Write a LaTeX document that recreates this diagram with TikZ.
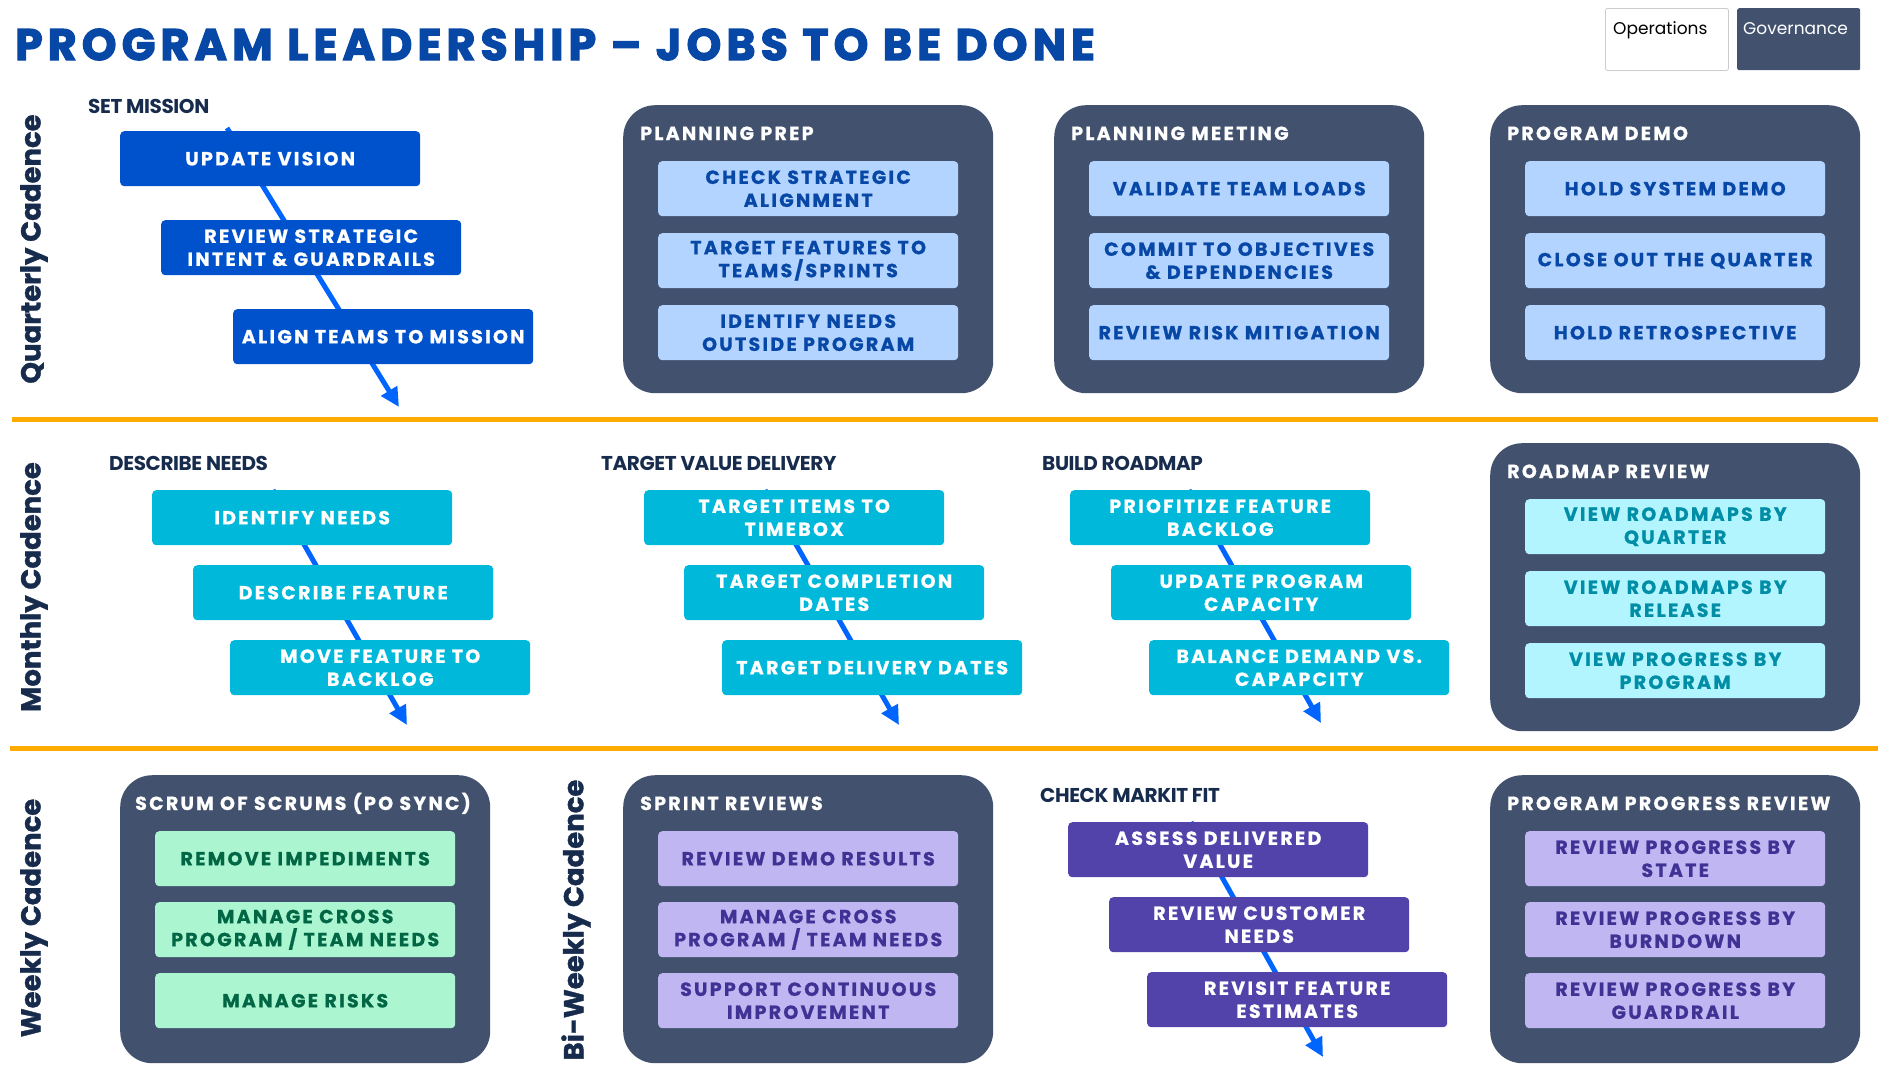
\documentclass[tikz,border=0pt]{standalone}
\usepackage{fontspec}
\setmainfont{Poppins}
\newfontfamily\jobff{Poppins}[LetterSpace=12, FakeBold=0.8]
\newfontfamily\ctff{Poppins}[LetterSpace=12, FakeBold=0.8]
\newfontfamily\lblff{Poppins}[LetterSpace=-2]
\newfontfamily\titleff{Poppins}[LetterSpace=12, FakeBold=3]
\newfontfamily\cadff{Poppins}[FakeBold=1.2]
\usetikzlibrary{arrows.meta,calc,backgrounds}
\definecolor{slate}{HTML}{42526E}
\definecolor{navy}{HTML}{172B4D}
\definecolor{titleblue}{HTML}{0747A6}
\definecolor{qdark}{HTML}{0052CC}
\definecolor{qlight}{HTML}{B3D4FF}
\definecolor{qtext}{HTML}{0747A6}
\definecolor{tdark}{HTML}{00B8D9}
\definecolor{tlight}{HTML}{B3F5FF}
\definecolor{ttext}{HTML}{008DA6}
\definecolor{glight}{HTML}{ABF5D1}
\definecolor{gtext}{HTML}{006644}
\definecolor{plight}{HTML}{C0B6F2}
\definecolor{ptext}{HTML}{403294}
\definecolor{pdark}{HTML}{5243AA}
\definecolor{flowblue}{HTML}{0065FF}
\definecolor{sep}{HTML}{FFAB00}
\newcommand{\jobfont}{\jobff\bfseries\fontsize{19}{23}\selectfont}
\newcommand{\conttitlefont}{\ctff\bfseries\fontsize{19}{21}\selectfont}
\newcommand{\lblfont}{\lblff\bfseries\fontsize{20}{22}\selectfont}
\newcommand{\cadfont}{\cadff\bfseries\fontsize{27.5}{30}\selectfont}
\newcommand{\titlefont}{\titleff\bfseries\fontsize{44}{48}\selectfont}
\tikzset{
  jobbox/.style={rectangle, rounded corners=4pt, minimum width=300pt, minimum height=55pt,
    text width=298pt, align=center, inner sep=0pt, anchor=north west, font=\jobfont},
  qop/.style={jobbox, fill=qdark, text=white},
  qgov/.style={jobbox, fill=qlight, text=qtext},
  mop/.style={jobbox, fill=tdark, text=white},
  mgov/.style={jobbox, fill=tlight, text=ttext},
  wgov/.style={jobbox, fill=glight, text=gtext},
  bgov/.style={jobbox, fill=plight, text=ptext},
  bop/.style={jobbox, fill=pdark, text=white},
  cont/.style={rectangle, rounded corners=32pt, fill=slate, minimum width=370pt,
    minimum height=288pt, anchor=north west, inner sep=0pt},
  conttitle/.style={anchor=base west, font=\conttitlefont, text=white, inner sep=0pt},
  grouplbl/.style={anchor=base west, font=\lblfont, text=navy, inner sep=0pt},
  cadence/.style={rotate=90, font=\cadfont, text=navy, inner sep=0pt},
  flow/.style={draw=flowblue, line width=5pt, -{Triangle[length=19pt,width=18pt]}},
  seprule/.style={draw=sep, line width=5pt},
  legendbox/.style={rectangle, rounded corners=2pt, minimum width=123pt, minimum height=62pt,
    anchor=north west, inner sep=0pt},
  legendtxt/.style={anchor=base west, font=\fontsize{17}{20}\selectfont, inner sep=0pt}
}
\begin{document}
\begin{tikzpicture}[x=1pt,y=-1pt]
\useasboundingbox (0,0) rectangle (1878,1066);

% title and legend
\node[anchor=base west, font=\titlefont, text=titleblue, inner sep=0pt] (title) at (15,60) {PROGRAM LEADERSHIP – JOBS TO BE DONE};
\node[legendbox, fill=white, draw=black!20, line width=0.8pt] (ops) at (1605,8) {};
\node[legendtxt, text=black] (opst) at ($(ops.north west)+(8,26)$) {Operations};
\node[legendbox, fill=slate] (gov) at (1737,8) {};
\node[legendtxt, text=white] (govt) at ($(gov.north west)+(6,26)$) {Governance};

% cadence labels
\node[cadence] (qcad) at (34,249) {Quarterly Cadence};
\node[cadence] (mcad) at (34,587) {Monthly Cadence};
\node[cadence] (wcad) at (34,918) {Weekly Cadence};
\node[cadence] (bcad) at (576,920) {Bi-Weekly Cadence};

%================ QUARTERLY =================
\node[grouplbl] (smlbl) at (88,113) {SET MISSION};
\node[qop] (sm1) at (120,131) {UPDATE VISION};
\node[qop] (sm2) at (161,220) {REVIEW STRATEGIC\\INTENT \& GUARDRAILS};
\node[qop] (sm3) at (233,309) {ALIGN TEAMS TO MISSION};
\coordinate (sms) at ($(sm1.north west)+(107,-3)$);
\coordinate (sme) at ($(sm1.north west)+(279,276)$);

\node[cont] (pp) at (623,105) {};
\node[conttitle] (ppt) at ($(pp.north west)+(17,35)$) {PLANNING PREP};
\node[qgov] (pp1) at ($(pp.north west)+(35,56)$) {CHECK STRATEGIC\\ALIGNMENT};
\node[qgov] (pp2) at ($(pp.north west)+(35,128)$) {TARGET FEATURES TO\\TEAMS/SPRINTS};
\node[qgov] (pp3) at ($(pp.north west)+(35,200)$) {IDENTIFY NEEDS\\OUTSIDE PROGRAM};

\node[cont] (pm) at (1054,105) {};
\node[conttitle] (pmt) at ($(pm.north west)+(17,35)$) {PLANNING MEETING};
\node[qgov] (pm1) at ($(pm.north west)+(35,56)$) {VALIDATE TEAM LOADS};
\node[qgov] (pm2) at ($(pm.north west)+(35,128)$) {COMMIT TO OBJECTIVES\\\& DEPENDENCIES};
\node[qgov] (pm3) at ($(pm.north west)+(35,200)$) {REVIEW RISK MITIGATION};

\node[cont] (pd) at (1490,105) {};
\node[conttitle] (pdt) at ($(pd.north west)+(17,35)$) {PROGRAM DEMO};
\node[qgov] (pd1) at ($(pd.north west)+(35,56)$) {HOLD SYSTEM DEMO};
\node[qgov] (pd2) at ($(pd.north west)+(35,128)$) {CLOSE OUT THE QUARTER};
\node[qgov] (pd3) at ($(pd.north west)+(35,200)$) {HOLD RETROSPECTIVE};

%================ MONTHLY =================
\node[grouplbl] (dnlbl) at (109,470) {DESCRIBE NEEDS};
\node[mop] (dn1) at (152,490) {IDENTIFY NEEDS};
\node[mop] (dn2) at (193,565) {DESCRIBE FEATURE};
\node[mop] (dn3) at (230,640) {MOVE FEATURE TO\\BACKLOG};
\coordinate (dns) at ($(dn1.north west)+(121,0)$);
\coordinate (dne) at ($(dn1.north west)+(255,235)$);

\node[grouplbl] (tvlbl) at (601,470) {TARGET VALUE DELIVERY};
\node[mop] (tv1) at (644,490) {TARGET ITEMS TO\\TIMEBOX};
\node[mop] (tv2) at (684,565) {TARGET COMPLETION\\DATES};
\node[mop] (tv3) at (722,640) {TARGET DELIVERY DATES};
\coordinate (tvs) at ($(tv1.north west)+(121,0)$);
\coordinate (tve) at ($(tv1.north west)+(255,235)$);

\node[grouplbl] (brlbl) at (1042,470) {BUILD ROADMAP};
\node[mop] (br1) at (1070,490) {PRIOFITIZE FEATURE\\BACKLOG};
\node[mop] (br2) at (1111,565) {UPDATE PROGRAM\\CAPACITY};
\node[mop] (br3) at (1149,640) {BALANCE DEMAND VS.\\CAPAPCITY};
\coordinate (brs) at ($(br1.north west)+(119,0)$);
\coordinate (bre) at ($(br1.north west)+(251,233)$);

\node[cont] (rr) at (1490,443) {};
\node[conttitle] (rrt) at ($(rr.north west)+(17,35)$) {ROADMAP REVIEW};
\node[mgov] (rr1) at ($(rr.north west)+(35,56)$) {VIEW ROADMAPS BY\\QUARTER};
\node[mgov] (rr2) at ($(rr.north west)+(35,128)$) {VIEW ROADMAPS BY\\RELEASE};
\node[mgov] (rr3) at ($(rr.north west)+(35,200)$) {VIEW PROGRESS BY\\PROGRAM};

%================ WEEKLY / BI-WEEKLY =================
\node[cont] (ss) at (120,775) {};
\node[conttitle] (sst) at ($(ss.north west)+(15,35)$) {SCRUM OF SCRUMS (PO SYNC)};
\node[wgov] (ss1) at ($(ss.north west)+(35,56)$) {REMOVE IMPEDIMENTS};
\node[wgov] (ss2) at ($(ss.north west)+(35,127)$) {MANAGE CROSS\\PROGRAM / TEAM NEEDS};
\node[wgov] (ss3) at ($(ss.north west)+(35,198)$) {MANAGE RISKS};

\node[cont] (sr) at (623,775) {};
\node[conttitle] (srt) at ($(sr.north west)+(17,35)$) {SPRINT REVIEWS};
\node[bgov] (sr1) at ($(sr.north west)+(35,56)$) {REVIEW DEMO RESULTS};
\node[bgov] (sr2) at ($(sr.north west)+(35,127)$) {MANAGE CROSS\\PROGRAM / TEAM NEEDS};
\node[bgov] (sr3) at ($(sr.north west)+(35,198)$) {SUPPORT CONTINUOUS\\IMPROVEMENT};

\node[grouplbl] (cmlbl) at (1040,802) {CHECK MARKIT FIT};
\node[bop] (cm1) at (1068,822) {ASSESS DELIVERED\\VALUE};
\node[bop] (cm2) at (1109,897) {REVIEW CUSTOMER\\NEEDS};
\node[bop] (cm3) at (1147,972) {REVISIT FEATURE\\ESTIMATES};
\coordinate (cms) at ($(cm1.north west)+(123,0)$);
\coordinate (cme) at ($(cm1.north west)+(255,235)$);

\node[cont] (pr) at (1490,775) {};
\node[conttitle] (prt) at ($(pr.north west)+(17,35)$) {PROGRAM PROGRESS REVIEW};
\node[bgov] (pr1) at ($(pr.north west)+(35,56)$) {REVIEW PROGRESS BY\\STATE};
\node[bgov] (pr2) at ($(pr.north west)+(35,127)$) {REVIEW PROGRESS BY\\BURNDOWN};
\node[bgov] (pr3) at ($(pr.north west)+(35,198)$) {REVIEW PROGRESS BY\\GUARDRAIL};

%================ background: rules and flow arrows =================
\begin{scope}[on background layer]
  \coordinate (r1a) at (12,419);
  \coordinate (r1b) at (1878,419);
  \coordinate (r2a) at (10,748);
  \coordinate (r2b) at (1878,748);
  \draw[seprule] (r1a) -- (r1b);
  \draw[seprule] (r2a) -- (r2b);
  \draw[flow] (sms) -- (sme);
  \draw[flow] (dns) -- (dne);
  \draw[flow] (tvs) -- (tve);
  \draw[flow] (brs) -- (bre);
  \draw[flow] (cms) -- (cme);
\end{scope}
\end{tikzpicture}
\end{document}
